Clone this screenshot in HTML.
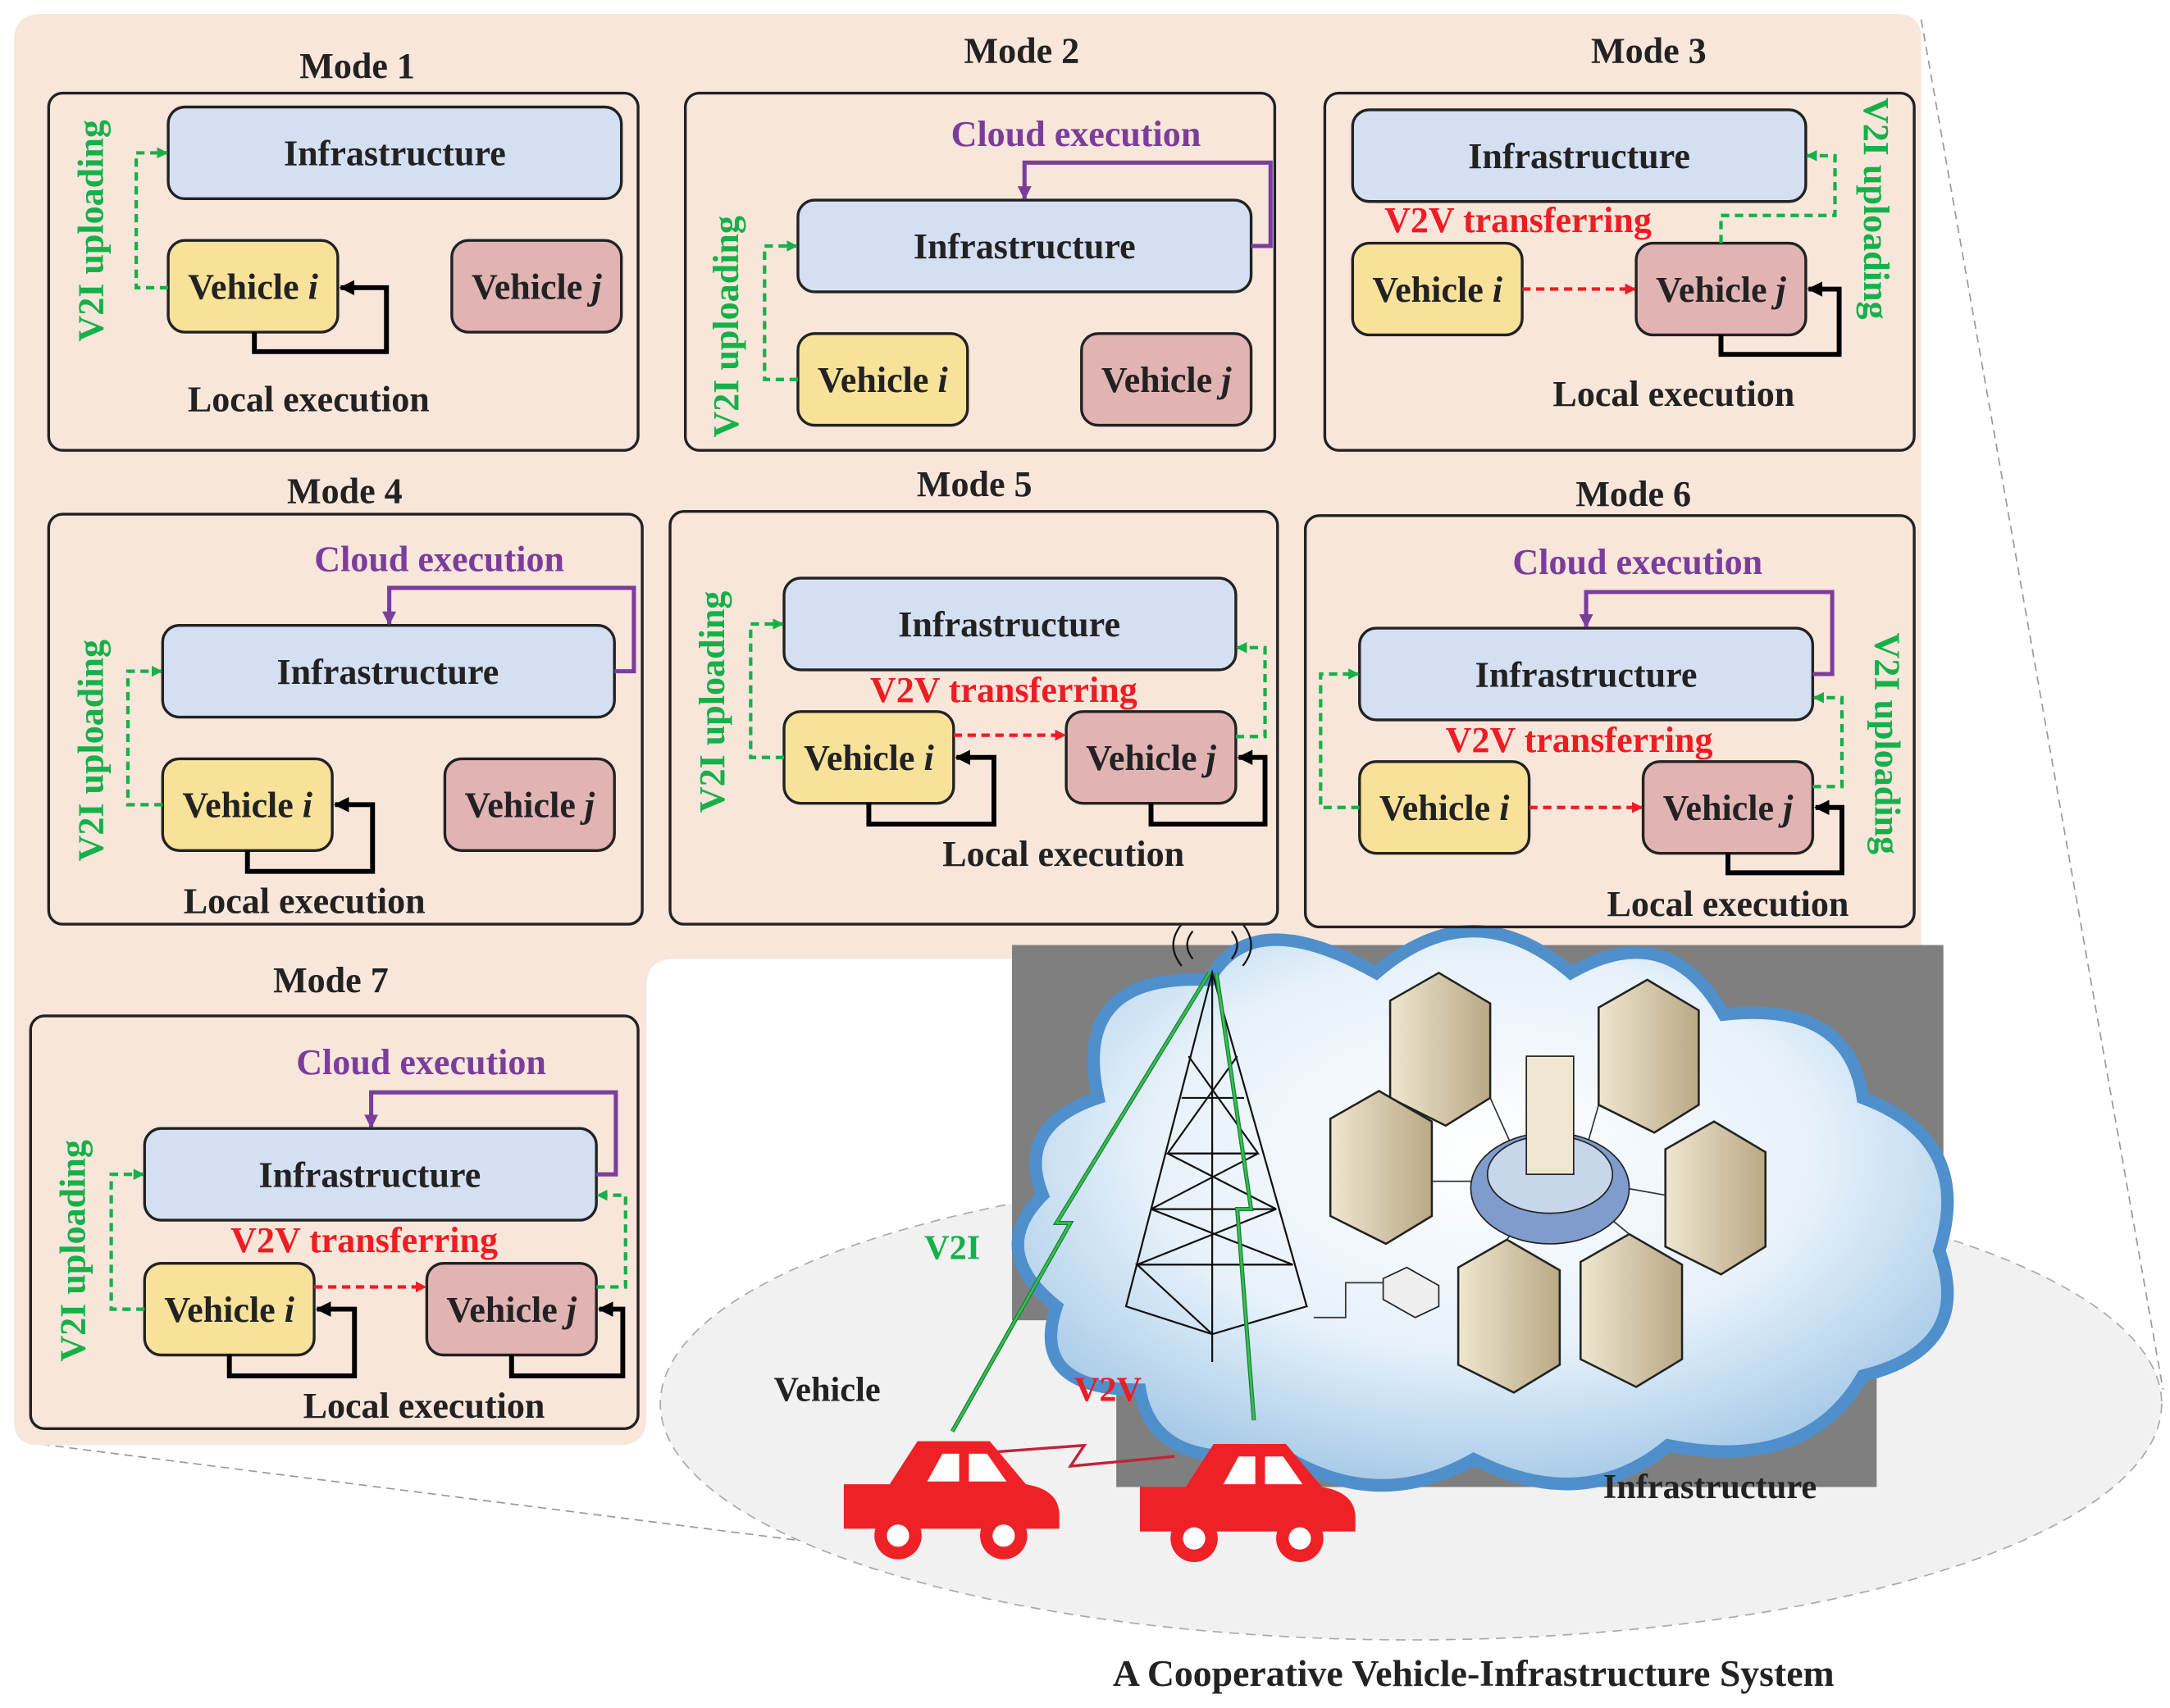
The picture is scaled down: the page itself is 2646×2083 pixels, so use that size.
<!DOCTYPE html>
<html><head><meta charset="utf-8"><style>
html,body{margin:0;padding:0;background:#fff}
svg{display:block}
text{font-family:"Liberation Serif",serif;font-weight:bold}
</style></head><body>
<svg width="2646" height="2083" viewBox="0 0 1561 1229" preserveAspectRatio="none" xmlns="http://www.w3.org/2000/svg">
<defs>
<marker id="ag" markerWidth="8" markerHeight="8" refX="7" refY="4" orient="auto" markerUnits="userSpaceOnUse"><path d="M0,0 L8,4 L0,8 z" fill="#16b04a"/></marker>
<marker id="ar" markerWidth="8" markerHeight="8" refX="7" refY="4" orient="auto" markerUnits="userSpaceOnUse"><path d="M0,0 L8,4 L0,8 z" fill="#ee1c24"/></marker>
<marker id="ap" markerWidth="10" markerHeight="10" refX="9" refY="5" orient="auto" markerUnits="userSpaceOnUse"><path d="M0,0 L10,5 L0,10 z" fill="#7a3d9c"/></marker>
<marker id="ak" markerWidth="11" markerHeight="11" refX="10" refY="5.5" orient="auto" markerUnits="userSpaceOnUse"><path d="M0,0 L11,5.5 L0,11 z" fill="#000"/></marker>
<radialGradient id="cg" cx="50%" cy="40%" r="60%"><stop offset="0" stop-color="#ffffff"/><stop offset="0.6" stop-color="#e6f1fa"/><stop offset="1" stop-color="#a9cbe8"/></radialGradient>
<linearGradient id="sv" x1="0" x2="1"><stop offset="0" stop-color="#efe6cf"/><stop offset="1" stop-color="#b9a985"/></linearGradient>
</defs>

<line x1="1382" y1="14" x2="1556" y2="1000" stroke="#999" stroke-dasharray="6,4"/>
<line x1="20" y1="1038" x2="650" y2="1118" stroke="#999" stroke-dasharray="6,4"/>

<ellipse cx="1015" cy="1010" rx="540" ry="170" fill="#f1f1f1" stroke="#aaa" stroke-dasharray="7,5"/>

<path d="M30,10 H1365 Q1382,10 1382,28 V690 H485 Q465,690 465,710 V1020 Q465,1040 445,1040 H28 Q10,1040 10,1022 V30 Q10,10 30,10 Z" fill="#f9e6da"/>

<rect x="728" y="680" width="670" height="270" fill="#7f7f7f"/>
<rect x="803" y="940" width="547" height="130" fill="#7f7f7f"/>
<line x1="730" y1="897" x2="1400" y2="897" stroke="#555"/>
<line x1="805" y1="960" x2="1360" y2="960" stroke="#555"/>

<path d="M790,790 Q770,700 870,705 Q900,650 990,700 Q1060,640 1130,700 Q1200,660 1240,730 Q1330,720 1340,790 Q1420,820 1395,900 Q1420,970 1340,990 Q1300,1060 1200,1040 Q1140,1090 1060,1050 Q990,1090 920,1045 Q830,1060 820,1000 Q740,1000 760,940 Q710,900 750,860 Q730,810 790,790 Z" fill="url(#cg)" stroke="#4f8fcb" stroke-width="9"/>

<g stroke="#222" stroke-width="1.5" fill="url(#sv)">
<path d="M1000,720 L1035,700 L1072,722 L1072,790 L1040,810 L1000,790 Z"/>
<path d="M1150,725 L1185,705 L1222,727 L1222,795 L1190,815 L1150,795 Z"/>
<path d="M957,805 L992,785 L1030,807 L1030,875 L997,895 L957,875 Z"/>
<path d="M1198,827 L1233,807 L1270,829 L1270,897 L1238,917 L1198,897 Z"/>
<path d="M1049,912 L1084,892 L1122,914 L1122,982 L1089,1002 L1049,982 Z"/>
<path d="M1137,908 L1172,888 L1210,910 L1210,978 L1177,998 L1137,978 Z"/>
</g>
<g stroke="#333" fill="none">
<line x1="1072" y1="790" x2="1090" y2="830"/><line x1="1150" y1="795" x2="1140" y2="830"/>
<line x1="1030" y1="850" x2="1060" y2="850"/><line x1="1198" y1="860" x2="1170" y2="855"/>
<line x1="1084" y1="892" x2="1100" y2="870"/><line x1="1172" y1="888" x2="1150" y2="870"/>
<path d="M945,948 H968 V923 H1000"/>
</g>
<ellipse cx="1115" cy="855" rx="57" ry="40" fill="#7f9ccc" stroke="#222"/>
<ellipse cx="1115" cy="845" rx="45" ry="28" fill="#c8d6ec" stroke="#222"/>
<rect x="1098" y="760" width="34" height="85" fill="#efe6cf" stroke="#222"/>
<path d="M995,920 L1012,912 L1035,925 L1035,940 L1018,948 L995,935 Z" fill="#eee" stroke="#222"/>

<g stroke="#111" stroke-width="1.3" fill="none">
<path d="M872,700 L810,940 L872,960 L940,940 Z"/>
<path d="M872,700 L872,980"/>
<path d="M850,790 L895,790 M840,830 L905,830 M828,870 L918,870 M818,910 L930,910"/>
<path d="M855,760 L905,830 L840,830 L918,870 L828,870 L930,910 L818,910 L872,960 M890,760 L840,830 L905,830 L828,870 L918,870 L818,910 L930,910"/>
<path d="M858,690 Q850,680 858,670 M886,690 Q894,680 886,670 M850,695 Q838,680 850,665 M894,695 Q906,680 894,665"/>
</g>
<polyline points="685,1030 770,880 760,880 870,700" fill="none" stroke="#16813a" stroke-width="3"/>
<polyline points="685,1030 770,880 760,880 870,700" fill="none" stroke="#3bbf4f" stroke-width="1.5"/>
<polyline points="902,1022 890,870 900,870 875,700" fill="none" stroke="#16813a" stroke-width="3"/>
<polyline points="902,1022 890,870 900,870 875,700" fill="none" stroke="#3bbf4f" stroke-width="1.5"/>
<polyline points="712,1045 780,1040 770,1055 845,1048" fill="none" stroke="#c0243a" stroke-width="2"/>

<g fill="#ee2226">
<path d="M607,1068 L640,1068 L660,1037 L712,1037 L738,1068 Q762,1072 762,1090 L762,1100 L607,1100 Z"/>
<path d="M820,1070 L853,1070 L873,1039 L925,1039 L951,1070 Q975,1074 975,1092 L975,1102 L820,1102 Z"/>
<circle cx="646" cy="1105" r="17"/><circle cx="722" cy="1105" r="17"/>
<circle cx="859" cy="1107" r="17"/><circle cx="935" cy="1107" r="17"/>
</g>
<g fill="#fff">
<path d="M667,1066 L678,1046 L690,1046 L690,1066 Z"/><path d="M697,1066 L697,1046 L710,1046 L724,1066 Z"/>
<path d="M880,1068 L891,1048 L903,1048 L903,1068 Z"/><path d="M910,1068 L910,1048 L923,1048 L937,1068 Z"/>
<circle cx="646" cy="1105" r="8"/><circle cx="722" cy="1105" r="8"/>
<circle cx="859" cy="1107" r="8"/><circle cx="935" cy="1107" r="8"/>
</g>

<g font-size="25">
<text x="685" y="906" text-anchor="middle" fill="#16b04a">V2I</text>
<text x="595" y="1008" text-anchor="middle" fill="#222">Vehicle</text>
<text x="797" y="1008" text-anchor="middle" fill="#ee1c24">V2V</text>
<text x="1230" y="1078" text-anchor="middle" fill="#222">Infrastructure</text>
<text x="1060" y="1213" text-anchor="middle" fill="#222" font-size="27">A Cooperative Vehicle-Infrastructure System</text>
</g>

<g fill="none" stroke="#222" stroke-width="2">
<rect x="35" y="67" width="424" height="257" rx="10"/>
<rect x="493" y="67" width="424" height="257" rx="10"/>
<rect x="953" y="67" width="424" height="257" rx="10"/>
<rect x="35" y="370" width="427" height="295" rx="10"/>
<rect x="482" y="368" width="437" height="297" rx="10"/>
<rect x="939" y="371" width="438" height="296" rx="10"/>
<rect x="22" y="731" width="437" height="297" rx="10"/>
</g>

<g stroke="#222" stroke-width="2">
<rect x="121" y="77" width="326" height="66" rx="12" fill="#d5dff2"/>
<rect x="121" y="173" width="122" height="66" rx="12" fill="#f8e29a"/>
<rect x="325" y="173" width="122" height="66" rx="12" fill="#e1b4b3"/>
<rect x="574" y="144" width="326" height="66" rx="12" fill="#d5dff2"/>
<rect x="574" y="240" width="122" height="66" rx="12" fill="#f8e29a"/>
<rect x="778" y="240" width="122" height="66" rx="12" fill="#e1b4b3"/>
<rect x="973" y="79" width="326" height="66" rx="12" fill="#d5dff2"/>
<rect x="973" y="175" width="122" height="66" rx="12" fill="#f8e29a"/>
<rect x="1177" y="175" width="122" height="66" rx="12" fill="#e1b4b3"/>
<rect x="117" y="450" width="325" height="66" rx="12" fill="#d5dff2"/>
<rect x="117" y="546" width="122" height="66" rx="12" fill="#f8e29a"/>
<rect x="320" y="546" width="122" height="66" rx="12" fill="#e1b4b3"/>
<rect x="564" y="416" width="325" height="66" rx="12" fill="#d5dff2"/>
<rect x="564" y="512" width="122" height="66" rx="12" fill="#f8e29a"/>
<rect x="767" y="512" width="122" height="66" rx="12" fill="#e1b4b3"/>
<rect x="978" y="452" width="326" height="66" rx="12" fill="#d5dff2"/>
<rect x="978" y="548" width="122" height="66" rx="12" fill="#f8e29a"/>
<rect x="1182" y="548" width="122" height="66" rx="12" fill="#e1b4b3"/>
<rect x="104" y="812" width="325" height="66" rx="12" fill="#d5dff2"/>
<rect x="104" y="909" width="122" height="66" rx="12" fill="#f8e29a"/>
<rect x="307" y="909" width="122" height="66" rx="12" fill="#e1b4b3"/>
</g>

<g fill="none" stroke="#16b04a" stroke-width="2.5" stroke-dasharray="6,4" marker-end="url(#ag)">
<path d="M121,207 H98 V110 H120"/>
<path d="M574,273 H550 V177 H573"/>
<path d="M1238,175 V155 H1320 V112 H1300"/>
<path d="M117,579 H92 V483 H116"/>
<path d="M564,545 H540 V449 H563"/>
<path d="M889,530 H910 V466 H890"/>
<path d="M978,581 H950 V485 H977"/>
<path d="M1304,566 H1325 V502 H1305"/>
<path d="M104,942 H80 V845 H103"/>
<path d="M429,926 H450 V860 H430"/>
</g>
<g fill="none" stroke="#ee1c24" stroke-width="2.5" stroke-dasharray="6,4" marker-end="url(#ar)">
<path d="M1095,208 H1176"/>
<path d="M686,529 H766"/>
<path d="M1100,581 H1181"/>
<path d="M226,926 H306"/>
</g>
<g fill="none" stroke="#7a3d9c" stroke-width="3" marker-end="url(#ap)">
<path d="M900,177 H914 V117 H737 V143"/>
<path d="M442,483 H456 V423 H280 V449"/>
<path d="M1304,485 H1318 V426 H1141 V451"/>
<path d="M429,845 H443 V786 H267 V811"/>
</g>
<g fill="none" stroke="#000" stroke-width="3.5" marker-end="url(#ak)">
<path d="M183,239 V253 H278 V207 H245"/>
<path d="M1238,241 V255 H1323 V208 H1301"/>
<path d="M178,612 V627 H268 V579 H241"/>
<path d="M625,578 V593 H715 V545 H688"/>
<path d="M828,578 V593 H910 V545 H891"/>
<path d="M1243,614 V628 H1325 V581 H1306"/>
<path d="M165,975 V990 H255 V942 H228"/>
<path d="M368,975 V990 H448 V942 H431"/>
</g>

<g font-size="26" fill="#222" text-anchor="middle">
<text x="257" y="56">Mode 1</text>
<text x="735" y="45">Mode 2</text>
<text x="1186" y="45">Mode 3</text>
<text x="248" y="362">Mode 4</text>
<text x="701" y="357">Mode 5</text>
<text x="1175" y="364">Mode 6</text>
<text x="238" y="714">Mode 7</text>

<text x="284" y="119">Infrastructure</text>
<text x="737" y="186">Infrastructure</text>
<text x="1136" y="121">Infrastructure</text>
<text x="279" y="492">Infrastructure</text>
<text x="726" y="458">Infrastructure</text>
<text x="1141" y="494">Infrastructure</text>
<text x="266" y="854">Infrastructure</text>

<text x="182" y="215">Vehicle <tspan font-style="italic">i</tspan></text>
<text x="386" y="215">Vehicle <tspan font-style="italic">j</tspan></text>
<text x="635" y="282">Vehicle <tspan font-style="italic">i</tspan></text>
<text x="839" y="282">Vehicle <tspan font-style="italic">j</tspan></text>
<text x="1034" y="217">Vehicle <tspan font-style="italic">i</tspan></text>
<text x="1238" y="217">Vehicle <tspan font-style="italic">j</tspan></text>
<text x="178" y="588">Vehicle <tspan font-style="italic">i</tspan></text>
<text x="381" y="588">Vehicle <tspan font-style="italic">j</tspan></text>
<text x="625" y="554">Vehicle <tspan font-style="italic">i</tspan></text>
<text x="828" y="554">Vehicle <tspan font-style="italic">j</tspan></text>
<text x="1039" y="590">Vehicle <tspan font-style="italic">i</tspan></text>
<text x="1243" y="590">Vehicle <tspan font-style="italic">j</tspan></text>
<text x="165" y="951">Vehicle <tspan font-style="italic">i</tspan></text>
<text x="368" y="951">Vehicle <tspan font-style="italic">j</tspan></text>

<text x="222" y="296">Local execution</text>
<text x="1204" y="292">Local execution</text>
<text x="219" y="657">Local execution</text>
<text x="765" y="623">Local execution</text>
<text x="1243" y="659">Local execution</text>
<text x="305" y="1020">Local execution</text>
</g>
<g font-size="26" fill="#7a3d9c" text-anchor="middle">
<text x="774" y="105">Cloud execution</text>
<text x="316" y="411">Cloud execution</text>
<text x="1178" y="413">Cloud execution</text>
<text x="303" y="773">Cloud execution</text>
</g>
<g font-size="26" fill="#ee1c24" text-anchor="middle">
<text x="1092" y="167">V2V transferring</text>
<text x="722" y="505">V2V transferring</text>
<text x="1136" y="541">V2V transferring</text>
<text x="262" y="901">V2V transferring</text>
</g>
<g font-size="26" fill="#16b04a" text-anchor="middle">
<text transform="translate(74,166) rotate(-90)">V2I uploading</text>
<text transform="translate(531,235) rotate(-90)">V2I uploading</text>
<text transform="translate(1341,150) rotate(90)">V2I uploading</text>
<text transform="translate(74,540) rotate(-90)">V2I uploading</text>
<text transform="translate(521,505) rotate(-90)">V2I uploading</text>
<text transform="translate(1349,535) rotate(90)">V2I uploading</text>
<text transform="translate(61,900) rotate(-90)">V2I uploading</text>
</g>
</svg>
</body></html>
